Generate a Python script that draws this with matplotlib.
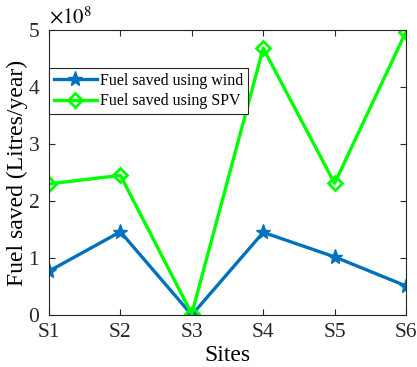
import matplotlib
matplotlib.use('Agg')
import matplotlib.pyplot as plt

sites = ['S1', 'S2', 'S3', 'S4', 'S5', 'S6']
fuel_wind = [0.77e8, 1.46e8, 0.0, 1.45e8, 1.02e8, 0.51e8]
fuel_spv = [2.30e8, 2.45e8, 0.02e8, 4.68e8, 2.31e8, 4.97e8]

plt.rcParams['font.family'] = ['Liberation Serif', 'DejaVu Serif']
plt.rcParams['mathtext.fontset'] = 'stix'

fig = plt.figure(figsize=(4.17, 3.67), dpi=100)
ax = fig.add_axes([49 / 417, 52 / 367, 357 / 417, 285 / 367])

x = list(range(len(sites)))
ax.plot(x, fuel_wind, color='#0072BD', linewidth=2.4, marker='*', markersize=11,
        label='Fuel saved using wind')
ax.plot(x, fuel_spv, color='#00FF00', linewidth=2.4, marker='D', markersize=7,
        markerfacecolor='none', markeredgewidth=2, label='Fuel saved using SPV')

ax.set_xlim(0, 5)
ax.set_ylim(0, 5e8)
ax.set_xticks(x)
ax.set_xticklabels(sites)
ax.set_yticks([i * 1e8 for i in range(6)])
ax.set_yticklabels([str(i) for i in range(6)])
ax.text(0.0, 1.005, r'$\times 10^{8}$', transform=ax.transAxes, fontsize=15,
        ha='left', va='bottom')
ax.tick_params(direction='in', top=True, right=True, labelsize=15.5, length=4,
               colors='#262626')
ax.tick_params(axis='x', pad=6)
ax.tick_params(axis='y', pad=7)
for s in ax.spines.values():
    s.set_color('#262626')
    s.set_linewidth(0.8)

ax.set_xlabel('Sites', fontsize=17, labelpad=2)
ax.set_ylabel('Fuel saved (Litres/year)', fontsize=17, labelpad=0)

leg = ax.legend(loc='upper left', bbox_to_anchor=(0.0, 0.867), fontsize=11.5,
                fancybox=False, edgecolor='#262626', framealpha=1,
                borderpad=0.3, handlelength=2.7, handletextpad=0.2, labelspacing=0.3,
                borderaxespad=0)
leg.get_frame().set_linewidth(0.8)

fig.savefig('out.png', dpi=100)
